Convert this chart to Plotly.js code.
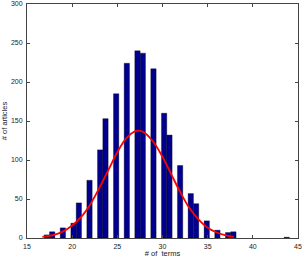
<!DOCTYPE html>
<html>
<head>
<meta charset="utf-8">
<script src="https://cdn.plot.ly/plotly-3.0.1.min.js"></script>
<style>html,body{margin:0;padding:0;background:#fff;}#chart{width:305px;height:258px;}</style>
</head>
<body>
<div id="chart"></div>
<script>
// Histogram bins (bin centres of the non-empty bins) and counts
var binCenters = [17.20, 17.79, 18.97, 20.15, 20.74, 21.92, 23.10, 23.69, 24.87, 26.05, 27.23, 27.82,
                  29.00, 30.18, 30.77, 31.95, 33.13, 33.72, 34.90, 36.08, 37.26, 37.85, 43.75];
var articleCounts = [4, 8, 13, 19, 45, 74, 113, 153, 185, 224, 240, 237,
                     217, 160, 132, 93, 57, 44, 22, 10, 7, 8, 1];

// Red fitted curve
var curveX = [16.7, 17, 18, 19, 20, 21, 22, 23, 24, 25, 26, 27, 27.4, 28, 29, 30, 31, 32, 33, 34, 35, 36, 37, 37.9];
var curveY = [1.5, 2, 4, 8.5, 16, 27, 43, 64, 87, 110, 128, 137, 137.6, 135, 123, 104, 81, 58, 38, 23.5, 13, 7, 3.3, 1.5];

var xTicks = [15, 20, 25, 30, 35, 40, 45];
var yTicks = [0, 50, 100, 150, 200, 250, 300];

var font = {family: 'Liberation Sans, Arial, sans-serif', size: 7, color: '#222'};

var traces = [
  {
    type: 'bar',
    x: binCenters,
    y: articleCounts,
    marker: {color: '#00008C', line: {color: 'rgba(0,0,0,0.55)', width: 0.6}},
    hoverinfo: 'x+y'
  },
  {
    type: 'scatter',
    mode: 'lines',
    x: curveX,
    y: curveY,
    line: {color: '#FF0000', width: 1.8, shape: 'spline'}
  }
];

var axisCommon = {
  showgrid: false,
  zeroline: false,
  showline: true,
  linecolor: '#444',
  linewidth: 1,
  mirror: 'ticks',
  ticks: 'inside',
  ticklen: 3,
  tickcolor: '#444',
  tickwidth: 1,
  tickfont: font
};

var layout = {
  width: 305,
  height: 258,
  margin: {l: 27, r: 7, t: 4, b: 20},
  paper_bgcolor: '#fff',
  plot_bgcolor: '#fff',
  showlegend: false,
  bargap: 0,
  xaxis: Object.assign({}, axisCommon, {
    range: [15, 45],
    tickmode: 'array',
    tickvals: xTicks,
    ticktext: xTicks.map(String),
    ticklabelstandoff: 2,
    title: {text: '# of\u00a0 terms', font: {family: font.family, size: 7.5, color: '#222'}, standoff: 1}
  }),
  yaxis: Object.assign({}, axisCommon, {
    range: [0, 300],
    tickmode: 'array',
    tickvals: yTicks,
    ticktext: yTicks.map(String),
    ticklabelstandoff: 2,
    title: {text: '# of articles', font: {family: font.family, size: 7.5, color: '#222'}, standoff: 3}
  })
};

Plotly.newPlot('chart', traces, layout, {displayModeBar: false, staticPlot: true});
</script>
</body>
</html>
